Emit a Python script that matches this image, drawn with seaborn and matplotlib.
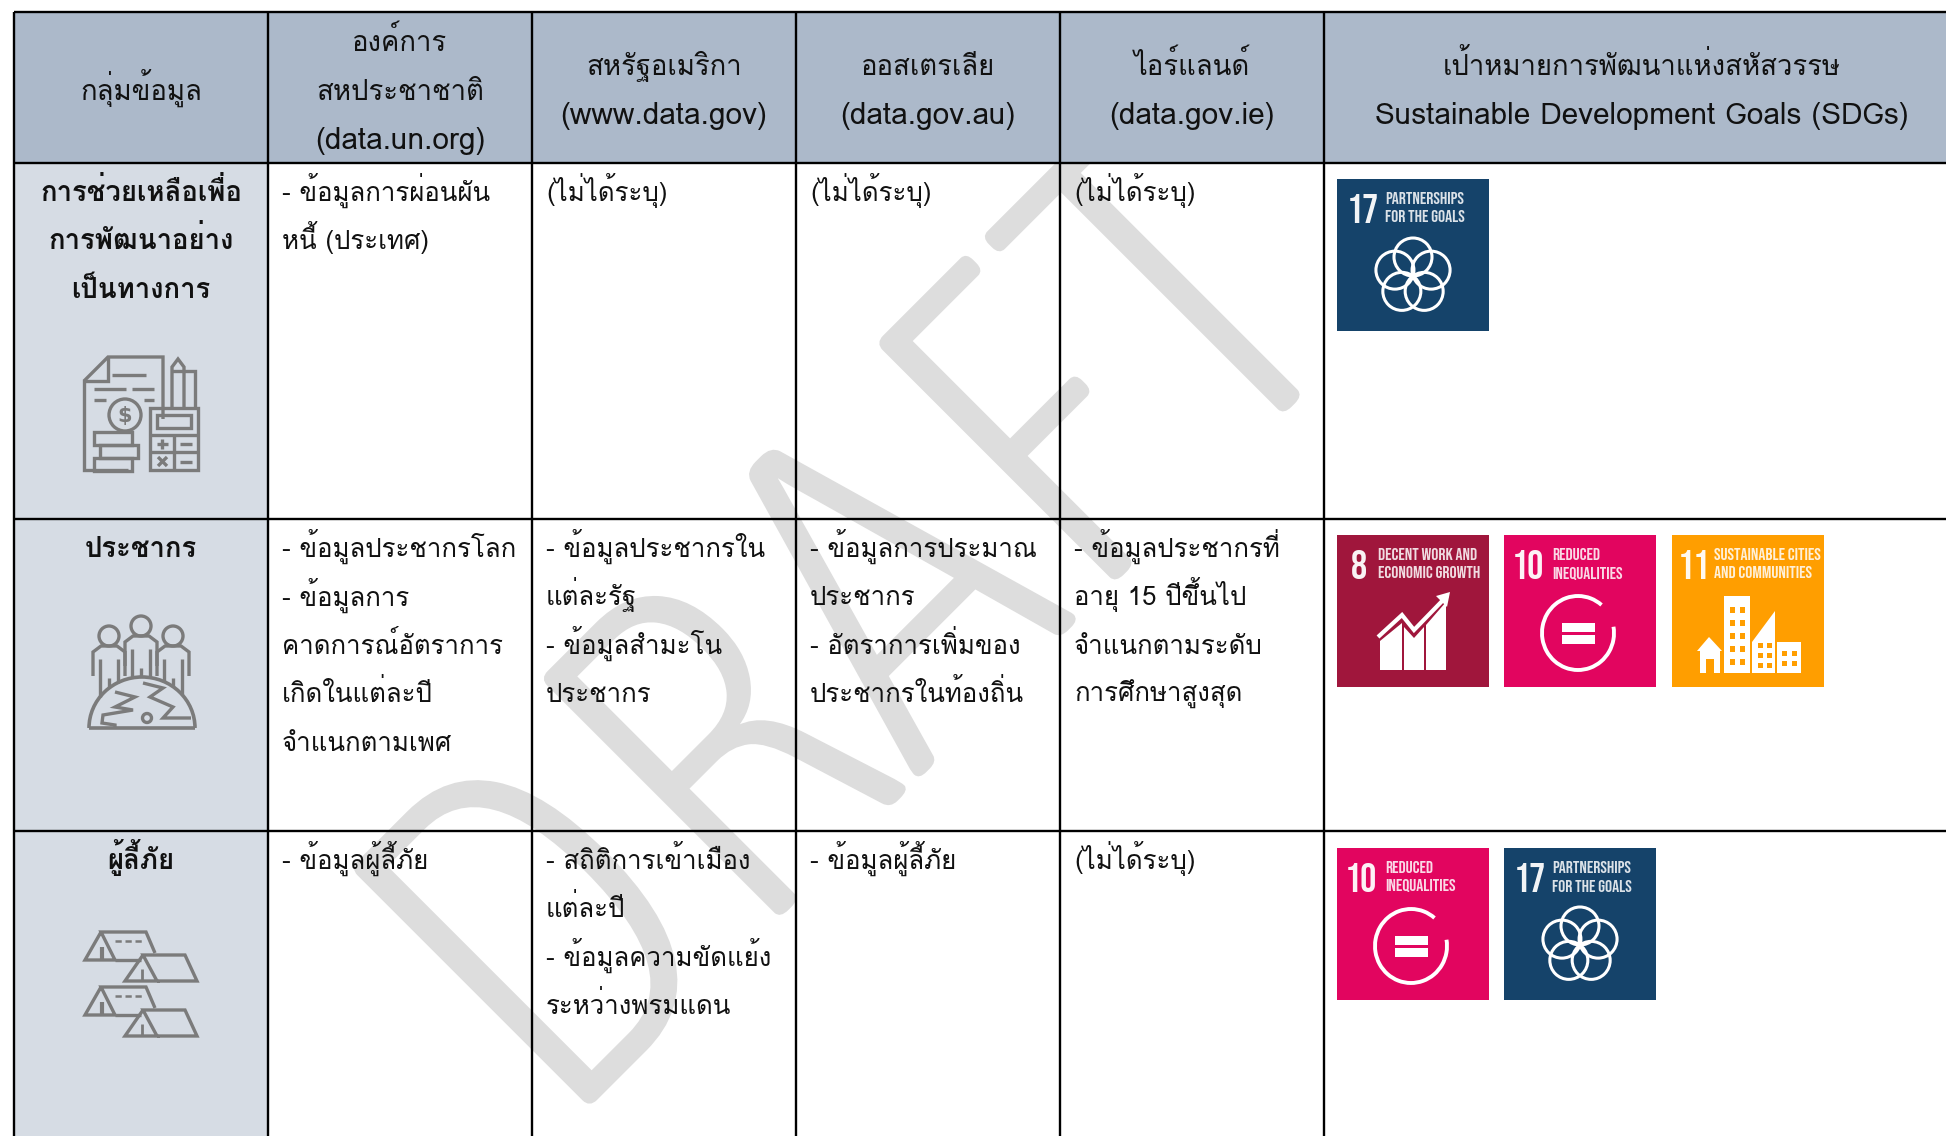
import numpy as np
import matplotlib
matplotlib.use('Agg')
import matplotlib.pyplot as plt
import matplotlib.patheffects as pe
from matplotlib.colors import ListedColormap
from matplotlib.patches import Rectangle, Circle, Polygon, Arc
import seaborn as sns

sns.set_theme(style='white')
plt.rcParams['font.family'] = ['Loma', 'Sarabun', 'Noto Sans Thai', 'DejaVu Sans']

headers = [
    ['กลุ่มข้อมูล'],
    ['องค์การ', 'สหประชาชาติ', '(data.un.org)'],
    ['สหรัฐอเมริกา', '(www.data.gov)'],
    ['ออสเตรเลีย', '(data.gov.au)'],
    ['ไอร์แลนด์', '(data.gov.ie)'],
    ['เป้าหมายการพัฒนาแห่งสหัสวรรษ', 'Sustainable Development Goals (SDGs)'],
]
groups = [
    ['การช่วยเหลือเพื่อ', 'การพัฒนาอย่าง', 'เป็นทางการ'],
    ['ประชากร'],
    ['ผู้ลี้ภัย'],
]
cells = [
    [['- ข้อมูลการผ่อนผัน', 'หนี้ (ประเทศ)'], ['(ไม่ได้ระบุ)'], ['(ไม่ได้ระบุ)'], ['(ไม่ได้ระบุ)']],
    [['- ข้อมูลประชากรโลก', '- ข้อมูลการ', 'คาดการณ์อัตราการ', 'เกิดในแต่ละปี', 'จำแนกตามเพศ'],
     ['- ข้อมูลประชากรใน', 'แต่ละรัฐ', '- ข้อมูลสำมะโน', 'ประชากร'],
     ['- ข้อมูลการประมาณ', 'ประชากร', '- อัตราการเพิ่มของ', 'ประชากรในท้องถิ่น'],
     ['- ข้อมูลประชากรที่', 'อายุ 15 ปีขึ้นไป', 'จำแนกตามระดับ', 'การศึกษาสูงสุด']],
    [['- ข้อมูลผู้ลี้ภัย'],
     ['- สถิติการเข้าเมือง', 'แต่ละปี', '- ข้อมูลความขัดแย้ง', 'ระหว่างพรมแดน'],
     ['- ข้อมูลผู้ลี้ภัย'], ['(ไม่ได้ระบุ)']],
]
goal_rows = [[17], [8, 10, 11], [10, 17]]
goal_names = {8: ['DECENT WORK AND', 'ECONOMIC GROWTH'], 10: ['REDUCED', 'INEQUALITIES'],
              11: ['SUSTAINABLE CITIES', 'AND COMMUNITIES'], 17: ['PARTNERSHIPS', 'FOR THE GOALS']}
goal_colors = {8: '#A0163C', 10: '#E2055F', 11: '#FF9E00', 17: '#15436A'}

W, H = 1946, 1136
# the last column runs past the right edge of the picture
col_x = [14, 268, 532, 796, 1060, 1324, 1960]
row_y = [12, 163, 519, 831, H]
line_h = 48.4
fs = 18.6
ink = '#111111'
icon = '#7B7B7B'
badge_font = ['Bebas Neue', 'Oswald', 'DejaVu Sans']

# the table fill is a pixel grid: 0 blank, 1 header, 2 first column
kinds = np.zeros((H, W), dtype=int)
kinds[row_y[1]:, col_x[0]:col_x[1]] = 2
kinds[row_y[0]:row_y[1], col_x[0]:] = 1

fig = plt.figure(figsize=(W / 100, H / 100), dpi=100)
ax = fig.add_axes([0, 0, 1, 1])
sns.heatmap(kinds, ax=ax, cbar=False, xticklabels=False, yticklabels=False, mask=kinds == 0,
            cmap=ListedColormap(['#FFFFFF', '#ACB9CA', '#D6DCE4']), vmin=0, vmax=2)

# watermark sits under the coloured fills
ax.text(555, 1140, 'DRAFT', fontsize=345, color='#DDDDDD', rotation=45, rotation_mode='anchor',
        ha='left', va='baseline', family=['Asap Condensed', 'PT Sans Narrow', 'Open Sans'],
        fontweight='light', zorder=0.5,
        path_effects=[pe.withStroke(linewidth=2, foreground='#DDDDDD', joinstyle='miter')])

# grid
for x in col_x[:-1]:
    ax.plot([x, x], [row_y[0], H], color='black', lw=1.7, zorder=3, solid_capstyle='butt')
for y in row_y[:-1]:
    ax.plot([col_x[0], W], [y, y], color='black', lw=1.7, zorder=3, solid_capstyle='butt')


def put(x, y, s, **kw):
    kw.setdefault('fontsize', fs)
    kw.setdefault('color', ink)
    ax.text(x, y, s, va='baseline', zorder=4, **kw)


# header
head_base = {1: [100], 2: [75, 124], 3: [51, 100, 149]}
for c, lines in enumerate(headers):
    cx = (col_x[c] + col_x[c + 1]) / 2
    for y, s in zip(head_base[len(lines)], lines):
        put(cx, y, s, ha='center', fontsize=21.4 if s.isascii() else 19.8)

# body
for r in range(3):
    cx = (col_x[0] + col_x[1]) / 2
    for i, s in enumerate(groups[r]):
        put(cx, row_y[r + 1] + 38 + i * line_h, s, ha='center', fontweight='bold', fontsize=19.8)
    for c, lines in enumerate(cells[r]):
        for i, s in enumerate(lines):
            put(col_x[c + 1] + 14, row_y[r + 1] + 38 + i * line_h, s, ha='left')


def poly(x, y, pts, **kw):
    xs = [x + p[0] for p in pts]
    ys = [y + p[1] for p in pts]
    ax.plot(xs, ys, color=kw.pop('color', icon), lw=kw.pop('lw', 2.4), zorder=5,
            solid_joinstyle='miter', solid_capstyle='butt', **kw)


def box(x, y, w, h):
    ax.add_patch(Rectangle((x, y), w, h, fill=False, ec=icon, lw=2.4, zorder=5))


def money_icon(x, y):
    poly(x, y, [(0, 24), (24, 0), (79, 0), (79, 62)])
    poly(x, y, [(24, 0), (24, 24), (0, 24), (0, 113), (44, 113)])
    for a, b, yy in [(28, 62, 18), (10, 42, 32), (48, 70, 32), (10, 22, 43), (60, 70, 43)]:
        poly(x, y, [(a, yy), (b, yy)])
    ax.add_patch(Circle((x + 41, y + 58), 16, fill=False, ec=icon, lw=2.4, zorder=5))
    ax.text(x + 41, y + 59, '$', ha='center', va='center', fontsize=15, color=icon, zorder=5,
            family=['DejaVu Sans'], fontweight='bold')
    for k, off in enumerate([10, 16, 10]):
        box(x + off, y + 75 + k * 13, 38, 13)
    box(x + 66, y + 51, 48, 62)
    box(x + 73, y + 58, 34, 13)
    poly(x, y, [(66, 78), (114, 78)])
    poly(x, y, [(66, 95), (114, 95)])
    poly(x, y, [(90, 78), (90, 113)])
    poly(x, y, [(73, 87), (84, 87)])
    poly(x, y, [(78, 82), (78, 92)])
    poly(x, y, [(96, 87), (108, 87)])
    poly(x, y, [(74, 100), (83, 109)])
    poly(x, y, [(83, 100), (74, 109)])
    poly(x, y, [(96, 105), (108, 105)])
    poly(x, y, [(88, 51), (88, 10), (94, 2), (100, 10), (100, 51)])
    poly(x, y, [(88, 14), (111, 14), (111, 51)])


def people_icon(x, y):
    rx, ry = 53, 51
    for dx, top in [(21, 30), (85, 30), (53, 20)]:
        ax.add_patch(Circle((x + dx, y + top - 10), 10, fill=False, ec=icon, lw=2.4, zorder=5))
        poly(x, y, [(dx - 16, top + 30), (dx - 16, top + 6), (dx - 8, top), (dx + 8, top), (dx + 16, top + 6), (dx + 16, top + 30)])
        for lx in (dx - 9, dx, dx + 9):
            start = top + 32 if lx == dx else top + 13
            end = 112 - ry * np.sqrt(max(0, 1 - ((lx - 54) / rx) ** 2))
            poly(x, y, [(lx, start), (lx, end)])
    ax.add_patch(Arc((x + 54, y + 112), 2 * rx, 2 * ry, theta1=180, theta2=360, ec=icon, lw=2.6, zorder=5))
    poly(x, y, [(1, 112), (107, 112)], lw=2.6)
    poly(x, y, [(27, 76), (47, 81), (27, 91), (45, 94), (15, 99), (14, 107), (27, 109), (27, 112)])
    poly(x, y, [(55, 67), (75, 72), (62, 81), (85, 91), (75, 102), (103, 102)])
    ax.add_patch(Circle((x + 59, y + 102), 4.5, fill=False, ec=icon, lw=2.4, zorder=5))


def tents_icon(x, y):
    for oy in (0, 55):
        poly(x, y + oy, [(16, 0), (0, 28), (30, 28), (16, 0), (61, 0), (70, 21)])
        poly(x, y + oy, [(30, 28), (56, 28)])
        poly(x, y + oy, [(17, 15), (17, 28)], lw=3)
        poly(x, y + oy, [(30, 9), (58, 9)], ls=(0, (2.5, 1.5)), lw=1.8)
        poly(x, y + oy, [(58, 23), (40, 49), (72, 49), (58, 23), (100, 23), (112, 49), (72, 49)])
        poly(x, y + oy, [(57, 37), (57, 49)], lw=2)


def fill_rects(x, y, rects, color='white', z=5):
    for l, t, w, h in rects:
        ax.add_patch(Rectangle((x + l, y + t), w, h, fc=color, ec='none', zorder=z))


def badge(x, y, n, size=152):
    col = goal_colors[n]
    ax.add_patch(Rectangle((x, y), size, size, fc=col, ec='none', zorder=4))
    num_x = {8: 22, 10: 24, 11: 22, 17: 26}[n]
    text_x = {8: 41, 10: 48, 11: 42, 17: 48}[n]
    ax.text(x + num_x, y + 44, str(n), color='white', fontsize=29, ha='center', va='baseline',
            zorder=5, family=badge_font, alpha=0.95)
    for i, s in enumerate(goal_names[n]):
        ax.text(x + text_x, y + 25 + i * 18.5, s, color='white', fontsize=12.6, va='baseline', zorder=5,
                family=badge_font, alpha=0.85)
    cx, cy = x + 76, y + 97
    if n == 17:
        for t in np.deg2rad([90, 162, 234, 306, 18]):
            ax.add_patch(Circle((cx + 19 * np.cos(t), cy - 19 * np.sin(t)), 19, fill=False, ec='white', lw=2.2, zorder=5))
    elif n == 10:
        ax.add_patch(Arc((cx - 2, cy + 1), 72, 74, theta1=-10, theta2=310, ec='white', lw=2.8, zorder=5))
        fill_rects(x, y, [(58, 88, 33, 9), (58, 100, 33, 9)])
    elif n == 8:
        for pts in [[(43, 135), (43, 106), (65, 88), (65, 135)],
                    [(67, 135), (67, 92), (77, 103), (87, 92), (87, 135)],
                    [(89, 135), (89, 90), (109, 67), (109, 135)]]:
            ax.add_patch(Polygon([(x + p, y + q) for p, q in pts], fc='white', ec='none', zorder=5))
        poly(x, y, [(41, 102), (65, 80), (77, 95), (110, 61)], color='white', lw=3)
        ax.add_patch(Polygon([(x + 113, y + 57), (x + 99, y + 61), (x + 110, y + 72)], fc='white', ec='none', zorder=6))
    elif n == 11:
        fill_rects(x, y, [(52, 61, 26, 77), (105, 107, 24, 31), (28, 114, 20, 24)])
        ax.add_patch(Polygon([(x + 80, y + 138), (x + 80, y + 107), (x + 103, y + 76), (x + 103, y + 138)], fc='white', ec='none', zorder=5))
        ax.add_patch(Polygon([(x + 25, y + 116), (x + 37, y + 102), (x + 50, y + 116)], fc='white', ec='none', zorder=5))
        fill_rects(x, y, [(l, 72 + k * 13, 5, 6) for k in range(5) for l in (58, 68)], col, 6)
        fill_rects(x, y, [(l, 108 + k * 10, 5, 5) for k in range(3) for l in (86, 95)], col, 6)
        fill_rects(x, y, [(l, 116 + k * 10, 5, 5) for k in range(2) for l in (110, 120)], col, 6)
        fill_rects(x, y, [(34, 124, 8, 14)], col, 6)


badge_tops = [179, 535, 848]
badge_lefts = [1337, 1504, 1672]
for r, goals in enumerate(goal_rows):
    for k, n in enumerate(goals):
        badge(badge_lefts[k], badge_tops[r], n)

money_icon(84, 357)
people_icon(88, 616)
tents_icon(85, 932)

ax.set_xlim(0, W)
ax.set_ylim(H, 0)
ax.axis('off')
fig.savefig('out.png', dpi=100)
